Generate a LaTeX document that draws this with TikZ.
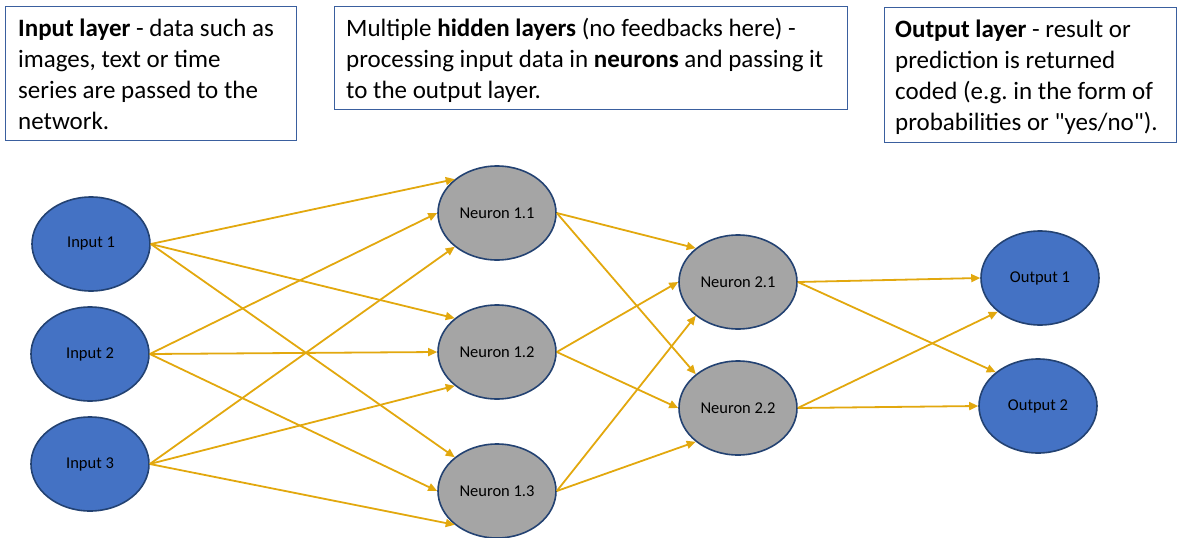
\documentclass[tikz,border=0pt]{standalone}
\usepackage{fontspec}
\setmainfont{Carlito}[Ligatures=TeXOff]
\usetikzlibrary{arrows.meta,shapes.geometric}
\definecolor{nodeblue}{HTML}{4472C4}
\definecolor{nodegray}{HTML}{A5A5A5}
\definecolor{rimline}{HTML}{234272}
\definecolor{boxline}{HTML}{3A5F9E}
\definecolor{arrowgold}{RGB}{226,168,14}
\tikzset{
  framebox/.style={draw=boxline, line width=1.3pt, inner sep=0pt, anchor=north west},
  boxtext/.style={anchor=north west, inner sep=0pt, align=left, font=\fontsize{25}{31}\selectfont, text=black},
  unit/.style={ellipse, draw=rimline, line width=1.6pt, minimum width=118pt, minimum height=94pt, inner sep=0pt, font=\fontsize{16.5}{19}\selectfont, text=black},
  inunit/.style={unit, fill=nodeblue},
  hidunit/.style={unit, fill=nodegray},
  link/.style={draw=arrowgold, line width=1.8pt, -{Triangle[length=9pt,width=8pt]}}
}
\frenchspacing
\begin{document}
\begin{tikzpicture}[x=1pt,y=-1pt]
\useasboundingbox (0,0) rectangle (1178,538);

% text boxes
\node[framebox, minimum width=291pt, minimum height=134pt] (box1) at (5,6) {};
\node[framebox, minimum width=513pt, minimum height=103pt] (box2) at (334,6) {};
\node[framebox, minimum width=292pt, minimum height=135pt] (box3) at (884,7) {};

\node[boxtext] (txt1) at (18,14.3) {\strut\textbf{Input layer} - data such as\\images, text or time\\series are passed to the\\network.};
\node[boxtext] (txt2) at (346,14.3) {\strut Multiple \textbf{hidden layers} (no feedbacks here) -\\processing input data in \textbf{neurons} and passing it\\to the output layer.};
\node[boxtext] (txt3) at (895,15.3) {\strut\textbf{Output layer} - result or\\prediction is returned\\coded (e.g. in the form of\\probabilities or "yes/no").};

% nodes
\node[inunit] (in1) at (91,244) {Input 1};
\node[inunit] (in2) at (90,354) {Input 2};
\node[inunit] (in3) at (90,464) {Input 3};

\node[hidunit] (n11) at (497,213) {Neuron 1.1};
\node[hidunit] (n12) at (497,352) {Neuron 1.2};
\node[hidunit] (n13) at (497,491) {Neuron 1.3};

\node[hidunit] (n21) at (738,282) {Neuron 2.1};
\node[hidunit] (n22) at (738,408) {Neuron 2.2};

\node[inunit] (out1) at (1040,278) {Output 1};
\node[inunit] (out2) at (1038,406) {Output 2};

% input -> hidden 1
\draw[link] (in1.east) -- (n11.north west);
\draw[link] (in1.east) -- (n12.north west);
\draw[link] (in1.east) -- (n13.north west);
\draw[link] (in2.east) -- (n11.west);
\draw[link] (in2.east) -- (n12.west);
\draw[link] (in2.east) -- (n13.west);
\draw[link] (in3.east) -- (n11.south west);
\draw[link] (in3.east) -- (n12.south west);
\draw[link] (in3.east) -- (n13.south west);

% hidden 1 -> hidden 2
\draw[link] (n11.east) -- (n21.north west);
\draw[link] (n11.east) -- (n22.north west);
\draw[link] (n12.east) -- (n21.west);
\draw[link] (n12.east) -- (n22.west);
\draw[link] (n13.east) -- (n21.south west);
\draw[link] (n13.east) -- (n22.south west);

% hidden 2 -> output
\draw[link] (n21.east) -- (out1.west);
\draw[link] (n21.east) -- (out2.north west);
\draw[link] (n22.east) -- (out1.south west);
\draw[link] (n22.east) -- (out2.west);
\end{tikzpicture}
\end{document}
